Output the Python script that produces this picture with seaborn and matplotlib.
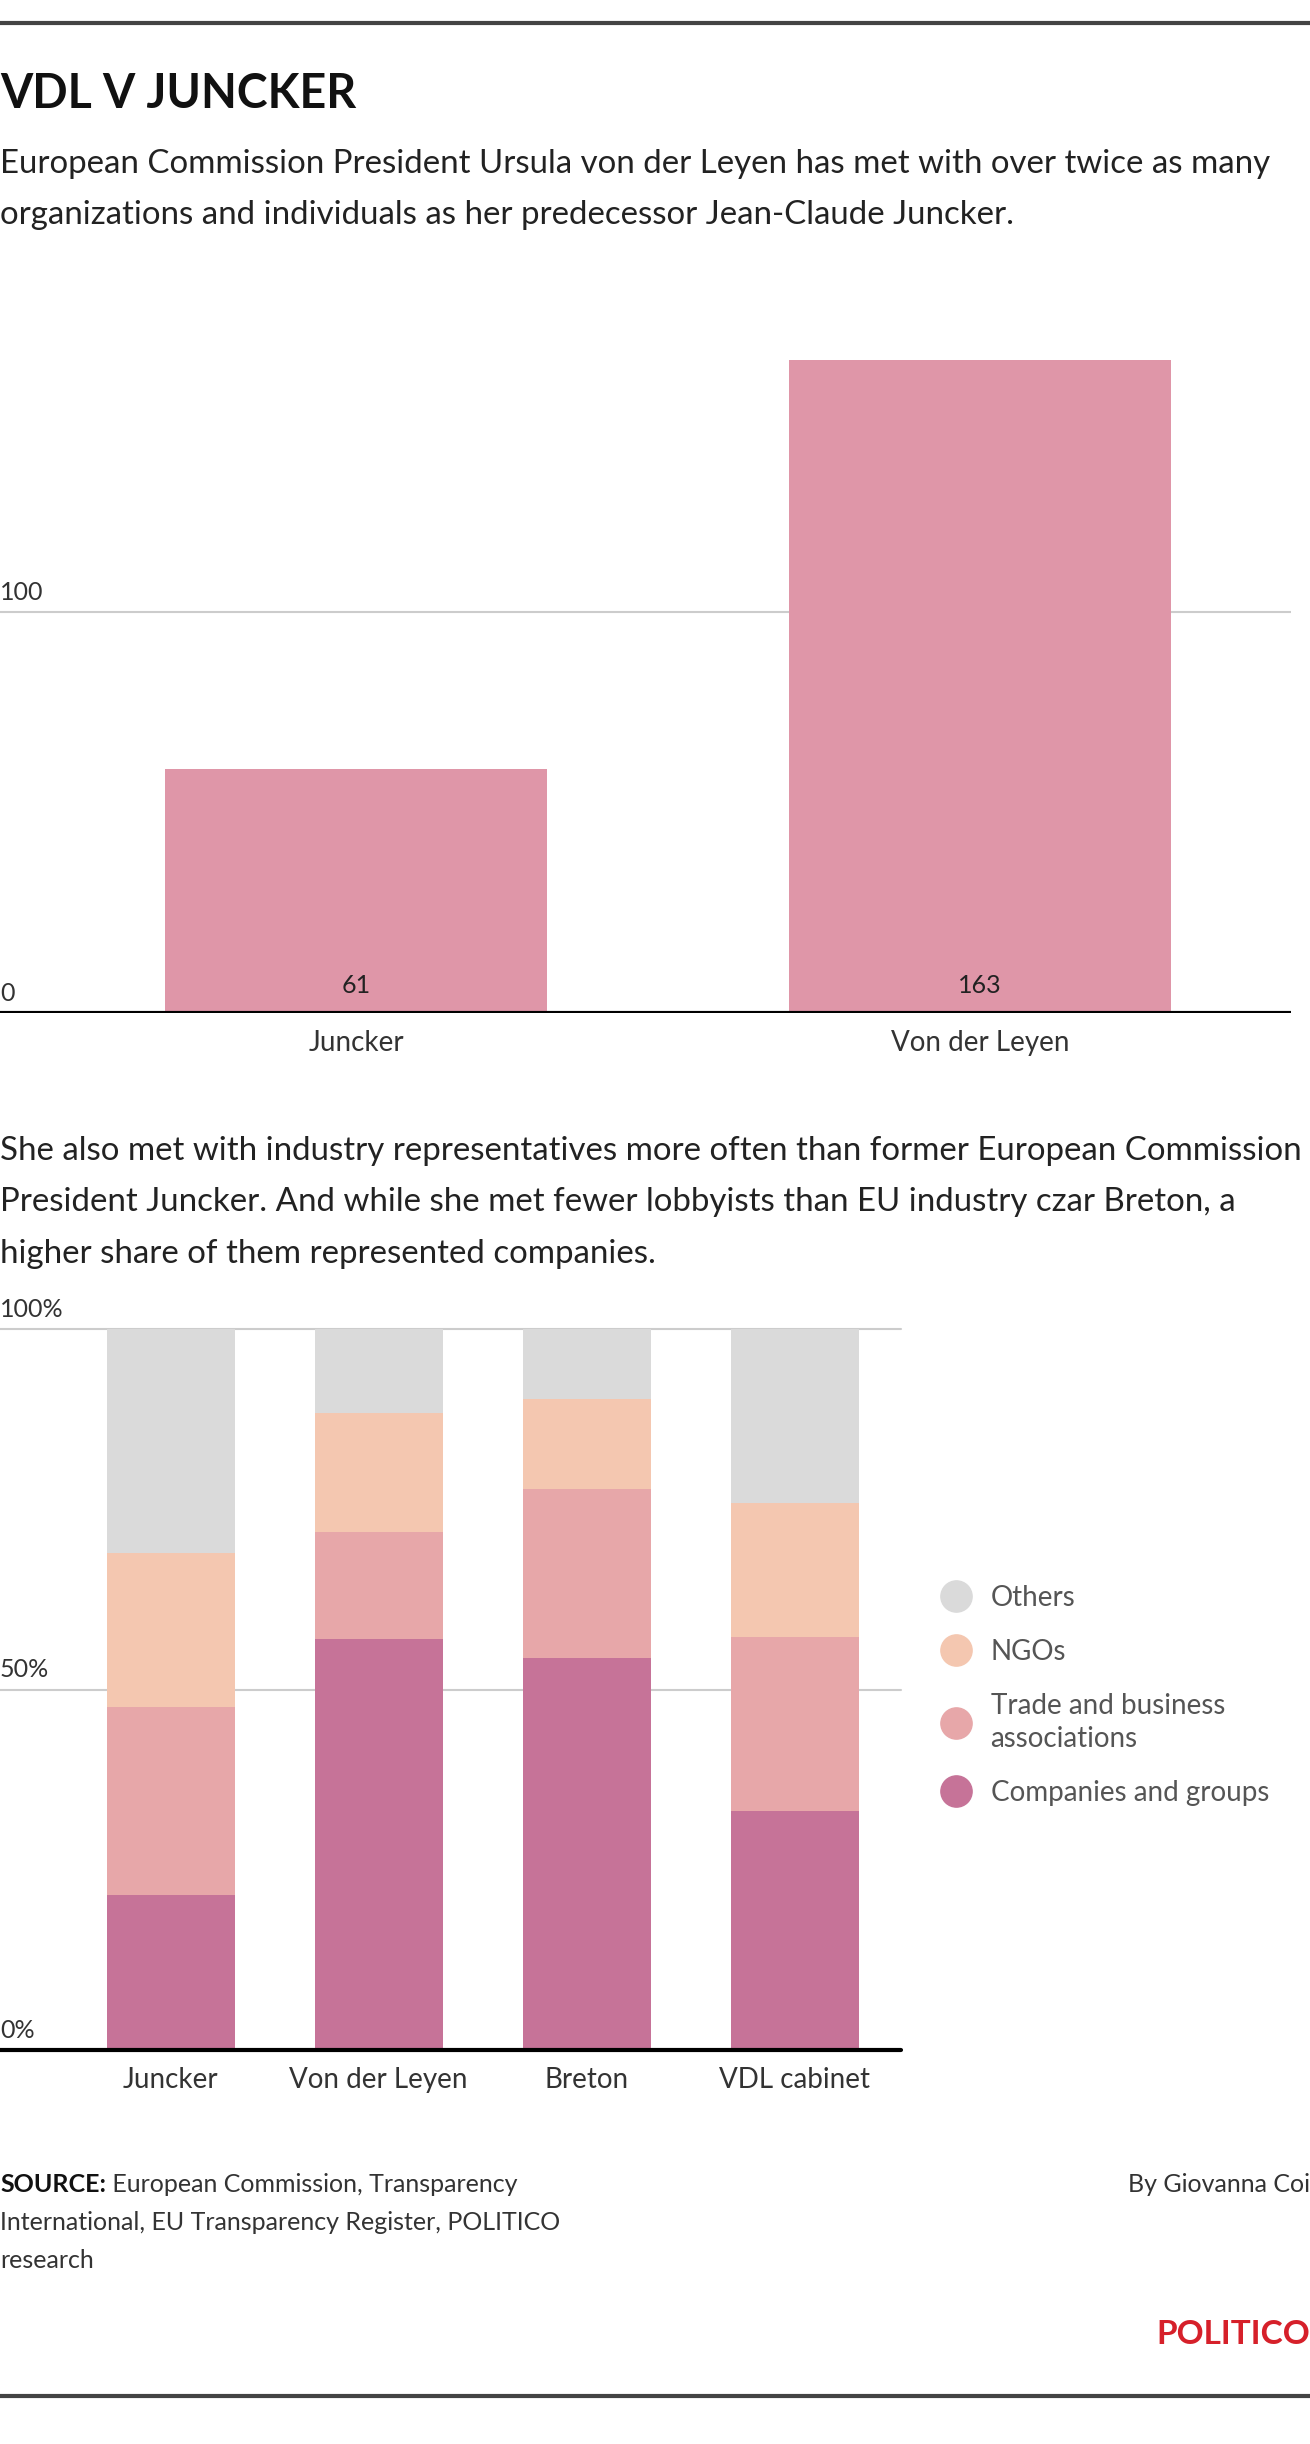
import matplotlib
matplotlib.use("Agg")
import matplotlib.pyplot as plt
from matplotlib.lines import Line2D
import seaborn as sns
import pandas as pd

# --- data ---
people = ["Juncker", "Von der Leyen"]
meetings = [61, 163]

groups = ["Juncker", "Von der Leyen", "Breton", "VDL cabinet"]
companies = [21.5, 57.0, 54.3, 33.2]
trade = [26.1, 14.8, 23.5, 24.1]
ngos = [21.3, 16.6, 12.5, 18.6]
others = [31.1, 11.6, 9.7, 24.1]

layer_names = ["Others", "NGOs", "Trade and business\nassociations", "Companies and groups"]
layer_colors = ["#dadada", "#f4c7b0", "#e7a7a9", "#c67398"]
bar_color = "#df96a8"

sns.set_style("white")
plt.rcParams["font.family"] = ["Lato", "DejaVu Sans"]

W, H = 1310, 2444
fig = plt.figure(figsize=(W / 100, H / 100), dpi=100)


def fy(px):
    return 1 - px / H


def fx(px):
    return px / W


# rules top and bottom
fig.add_artist(Line2D([0, 1], [fy(23), fy(23)], color="#444444", lw=3))
fig.add_artist(Line2D([0, 1], [fy(2396), fy(2396)], color="#444444", lw=3))

fig.text(0, fy(94), "VDL V JUNCKER", fontsize=33.5, fontweight="bold", color="#111111", va="center")
fig.text(0, fy(164), "European Commission President Ursula von der Leyen has met with over twice as many",
         fontsize=23.8, color="#222222", va="center")
fig.text(0, fy(215), "organizations and individuals as her predecessor Jean-Claude Juncker.",
         fontsize=23.8, color="#222222", va="center")

# --- top chart ---
ax1 = fig.add_axes([0, fy(1013), fx(1291), (1013 - 340) / H])
df1 = pd.DataFrame({"who": people, "n": meetings})
sns.barplot(data=df1, x="who", y="n", color=bar_color, saturation=1, width=0.612,
            linewidth=0, ax=ax1, zorder=2)
ax1.set_xlim(-0.571, 1.498)
ax1.set_ylim(0, 168)
ax1.axhline(100, color="#cccccc", lw=1.5, zorder=1)
ax1.axhline(0, color="black", lw=3, zorder=3)
for tick in [0, 100]:
    ax1.annotate(str(tick), (0, tick), xycoords=ax1.get_yaxis_transform(), xytext=(0, 6),
                 textcoords="offset points", fontsize=18, color="#333333", ha="left", va="bottom")
for i, v in enumerate(meetings):
    ax1.annotate(str(v), (i, 0), xytext=(0, 20), textcoords="offset points", fontsize=18,
                 color="#222222", ha="center", va="center")
ax1.set_yticks([])
ax1.set_xlabel("")
ax1.set_ylabel("")
ax1.tick_params(axis="x", length=0, pad=12, labelsize=20, labelcolor="#333333")
sns.despine(ax=ax1, left=True, bottom=True)

fig.text(0, fy(1151), "She also met with industry representatives more often than former European Commission",
         fontsize=23.8, color="#222222", va="center")
fig.text(0, fy(1202), "President Juncker. And while she met fewer lobbyists than EU industry czar Breton, a",
         fontsize=23.8, color="#222222", va="center")
fig.text(0, fy(1254), "higher share of them represented companies.", fontsize=23.8, color="#222222", va="center")

# --- stacked chart ---
ax2 = fig.add_axes([0, fy(2050), fx(901), (2050 - 1329) / H])
df2 = pd.DataFrame({"who": groups, "Companies": companies, "Trade": trade, "NGOs": ngos, "Others": others})
cum = df2[["Companies", "Trade", "NGOs", "Others"]].cumsum(axis=1)
layers = ["Others", "NGOs", "Trade", "Companies"]
for col, colr in zip(layers, layer_colors):
    sns.barplot(x=df2["who"], y=cum[col], color=colr, saturation=1, width=0.615,
                linewidth=0, ax=ax2, zorder=2)
ax2.set_xlim(-0.82, 3.51)
ax2.set_ylim(0, 100)
for g in [50, 100]:
    ax2.axhline(g, color="#cccccc", lw=1.5, zorder=1, clip_on=False)
ax2.axhline(0, color="black", lw=3, zorder=3, clip_on=False)
for tick in [0, 50, 100]:
    ax2.annotate(f"{tick}%", (0, tick), xycoords=ax2.get_yaxis_transform(), xytext=(0, 6),
                 textcoords="offset points", fontsize=18, color="#333333", ha="left", va="bottom")
ax2.set_yticks([])
ax2.set_xlabel("")
ax2.set_ylabel("")
ax2.tick_params(axis="x", length=0, pad=12, labelsize=20, labelcolor="#333333")
sns.despine(ax=ax2, left=True, bottom=True)

# legend
handles = [Line2D([], [], marker="o", ls="", markersize=22.5, markerfacecolor=c, markeredgecolor=c)
           for c in layer_colors]
leg = fig.legend(handles, layer_names, loc="upper left", bbox_to_anchor=(fx(942), fy(1585)),
                 frameon=False, fontsize=20, labelcolor="#555555", handletextpad=0.75,
                 handlelength=1.0, labelspacing=1.0, borderaxespad=0, borderpad=0)
for t in leg.get_texts():
    t.set_linespacing(1.35)

# footer
src = fig.text(0, fy(2185), "SOURCE:", fontsize=18, fontweight="bold", color="#111111", va="center")
plt.annotate(" European Commission, Transparency", xy=(1, 0.5), xycoords=src, fontsize=18,
             color="#333333", va="center", ha="left", annotation_clip=False)
fig.text(0, fy(2223), "International, EU Transparency Register, POLITICO", fontsize=18, color="#333333", va="center")
fig.text(0, fy(2260), "research", fontsize=18, color="#333333", va="center")
fig.text(1, fy(2185), "By Giovanna Coi", fontsize=18, color="#333333", va="center", ha="right")
fig.text(1, fy(2335), "POLITICO", fontsize=24, fontweight="bold", color="#d6202a", va="center", ha="right",
         family=["Liberation Sans Narrow", "Lato"])

fig.savefig("out.png", dpi=100)
